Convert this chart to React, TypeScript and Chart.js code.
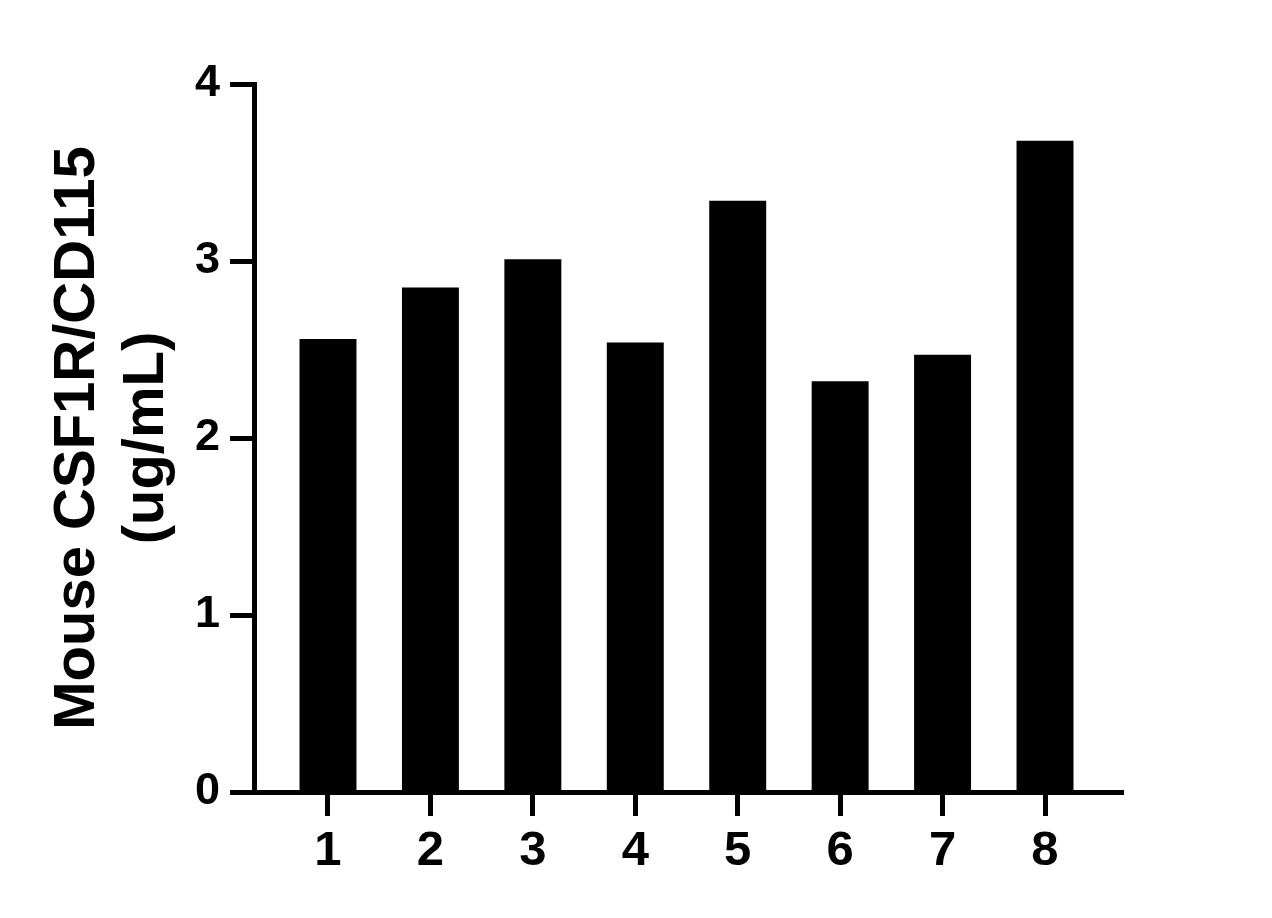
import React, { useEffect, useRef } from "react";
import { Chart, registerables } from "chart.js";

Chart.register(...registerables);

const categories: string[] = ["1", "2", "3", "4", "5", "6", "7", "8"];
const values: number[] = [2.56, 2.85, 3.01, 2.54, 3.34, 2.32, 2.47, 3.68];
const yTicks: number[] = [0, 1, 2, 3, 4];
const yTitle: string[] = ["Mouse CSF1R/CD115", "(ug/mL)"];

const FONT = "'Liberation Sans', Arial, Helvetica, sans-serif";

export default function App() {
  const ref = useRef<HTMLCanvasElement | null>(null);

  useEffect(() => {
    if (!ref.current) return;
    const chart = new Chart(ref.current, {
      type: "bar",
      data: {
        datasets: [
          {
            data: values.map((v, i) => ({ x: i + 1, y: v })),
            backgroundColor: "#000000",
            borderWidth: 0,
            categoryPercentage: 1,
            barPercentage: 0.556,
          },
        ],
      },
      options: {
        responsive: false,
        animation: false,
        devicePixelRatio: 1,
        layout: { padding: { left: 0, top: 84, right: 149, bottom: 0 } },
        plugins: {
          legend: { display: false },
          tooltip: { enabled: false },
        },
        scales: {
          x: {
            type: "linear",
            offset: false,
            min: 0.2776,
            max: 8.7615,
            afterBuildTicks: (scale: any) => {
              scale.ticks = categories.map((_, i) => ({ value: i + 1 }));
            },
            afterFit: (scale: any) => {
              scale.height = 126;
            },
            grid: {
              offset: false,
              drawOnChartArea: false,
              drawTicks: true,
              tickLength: 24,
              tickWidth: 5,
              tickColor: "#000",
            },
            border: { display: true, width: 5, color: "#000" },
            ticks: {
              color: "#000",
              padding: 6,
              maxRotation: 0,
              autoSkip: false,
              font: { family: FONT, size: 49, weight: "bold", lineHeight: 1.2 },
              callback: (v: any) => {
                const i = Math.round(Number(v)) - 1;
                return categories[i] ?? "";
              },
            },
          },
          y: {
            type: "linear",
            min: yTicks[0],
            max: yTicks[yTicks.length - 1],
            afterBuildTicks: (scale: any) => {
              scale.ticks = yTicks.map((v) => ({ value: v }));
            },
            afterFit: (scale: any) => {
              scale.width = 254;
            },
            grid: {
              drawOnChartArea: false,
              drawTicks: true,
              tickLength: 24,
              tickWidth: 5,
              tickColor: "#000",
            },
            border: { display: true, width: 5, color: "#000" },
            ticks: {
              color: "#000",
              padding: 10,
              font: { family: FONT, size: 45, weight: "bold", lineHeight: 1.2 },
              callback: (v: any) => String(v),
            },
            title: {
              display: true,
              text: yTitle,
              color: "#000",
              padding: { top: 43, bottom: 0 },
              font: { family: FONT, size: 58, weight: "bold", lineHeight: 1.19 },
            },
          },
        },
      },
    } as any);
    return () => chart.destroy();
  }, []);

  return (
    <div
      style={{
        position: "absolute",
        left: 0,
        top: 0,
        width: 1272,
        height: 918,
        background: "#ffffff",
      }}
    >
      <canvas
        ref={ref}
        width={1272}
        height={918}
        style={{ display: "block", width: 1272, height: 918 }}
      />
    </div>
  );
}
